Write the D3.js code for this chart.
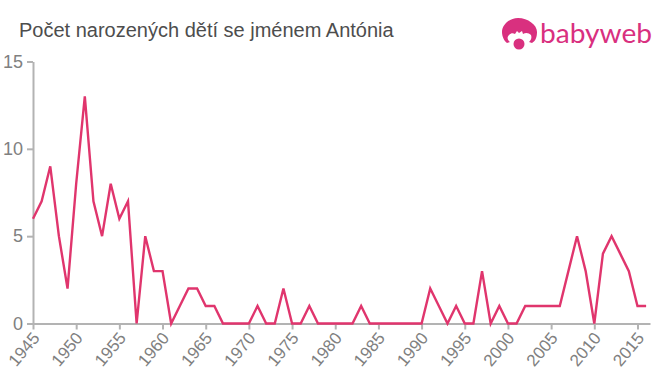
<!DOCTYPE html>
<html>
<head>
<meta charset="utf-8">
<script src="https://cdn.jsdelivr.net/npm/d3@7"></script>
<style>
  html, body { margin: 0; padding: 0; background: #fff; }
  svg { display: block; font-family: "Liberation Sans", Arial, sans-serif; }
  .axis path, .axis line { stroke: #b3b3b3; stroke-width: 2px; }
  .axis text { fill: #808080; font-size: 18px; font-family: "Liberation Sans", Arial, sans-serif; }
</style>
</head>
<body>
<div id="chart"></div>
<script>
const title = "Počet narozených dětí se jménem Antónia";
const brand = "babyweb";

const years = d3.range(1945, 2017);
const counts = [
    6, 7, 9, 5, 2, 8, 13, 7, 5, 8,
    6, 7, 0, 5, 3, 3, 0, 1, 2, 2,
    1, 1, 0, 0, 0, 0, 1, 0, 0, 2,
    0, 0, 1, 0, 0, 0, 0, 0, 1, 0,
    0, 0, 0, 0, 0, 0, 2, 1, 0, 1,
    0, 0, 3, 0, 1, 0, 0, 1, 1, 1,
    1, 1, 3, 5, 3, 0, 4, 5, 4, 3,
    1, 1
];
const yearTicks = d3.range(1945, 2016, 5);
const countTicks = [0, 5, 10, 15];

const props = { width: 660, height: 375, padL: 33, padR: 10, padT: 61, padB: 52 };

const svg = d3.select("#chart").append("svg")
    .attr("width", props.width)
    .attr("height", props.height);

// plot label
svg.append("text")
    .attr("x", 19)
    .attr("y", 37)
    .attr("fill", "#4d4d4d")
    .attr("style", "font-size: 20px;")
    .text(title);

const xScale = d3.scaleLinear().domain([1945, 2016.45]).range([props.padL, props.width - props.padR]);
const yScale = d3.scaleLinear().domain([0, 15]).range([props.height - props.padB + 0.5, props.padT + 0.5]);

const xAxis = d3.axisBottom(xScale).tickValues(yearTicks).tickFormat(d3.format("d")).tickSize(6).tickSizeOuter(0);
const yAxis = d3.axisLeft(yScale).tickValues(countTicks).tickSize(6).tickSizeOuter(0);

const gx = svg.append("g")
    .attr("class", "axis")
    .attr("transform", `translate(0, ${props.height - props.padB + 0.5})`)
    .call(xAxis);

// labels hang off the tick: anchor at the end of the text, then rotate
gx.selectAll("text")
    .attr("text-anchor", "end")
    .attr("x", 0)
    .attr("y", 0)
    .attr("dy", 0)
    .style("font-size", "17px")
    .attr("transform", "translate(7, 15) rotate(-50)");

const gy = svg.append("g")
    .attr("class", "axis")
    .attr("transform", `translate(${props.padL}, 0)`)
    .call(yAxis);

gy.selectAll("line").attr("x1", 0).attr("x2", -6);
gy.selectAll("text").attr("x", -10);

const line = d3.line().x((d, i) => xScale(years[i])).y(d => yScale(d));

svg.append("path")
    .attr("d", line(counts))
    .attr("fill", "none")
    .attr("stroke", "#e0356d")
    .attr("stroke-width", 2.4)
    .attr("stroke-linejoin", "miter");

// logo: head with hair, then the brand name
const logo = svg.append("g").attr("fill", "#d9307f");
logo.append("path")
    .attr("d", "M518 18c-9 0-16 7-16 14 0 4 2 9 5 11l3-1c-3-2-3-5-1-7 2-2 4-2 6-1l2-3 2 2 3-2 1 3c3-2 6-1 8 1 1 3 0 5-2 7l3 1c4-2 5-7 5-11 0-7-9-14-19-14z");
logo.append("circle").attr("cx", 519).attr("cy", 44).attr("r", 5.5);
logo.append("text")
    .attr("x", 540)
    .attr("y", 43)
    .attr("textLength", 112)
    .attr("lengthAdjust", "spacingAndGlyphs")
    .attr("style", "font-family: Lato, sans-serif; font-size: 27px;")
    .text(brand);
</script>
</body>
</html>
